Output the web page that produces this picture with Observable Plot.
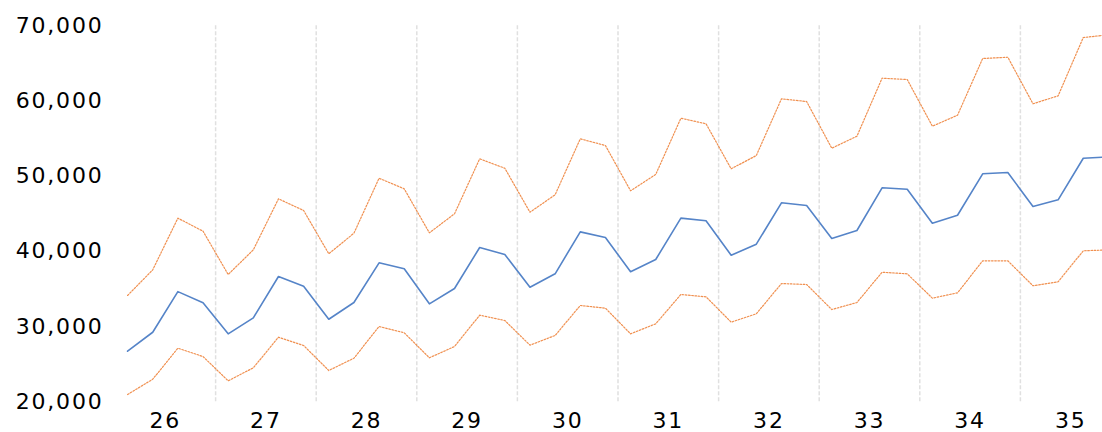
<!DOCTYPE html>
<html>
<head>
<meta charset="utf-8">
<script src="https://cdn.jsdelivr.net/npm/d3@7"></script>
<script src="https://cdn.jsdelivr.net/npm/@observablehq/plot@0.6"></script>
<style>
  html, body { margin: 0; padding: 0; background: #fff; overflow: hidden; }
  #chart svg { overflow: hidden; }
</style>
</head>
<body>
<div id="chart"></div>
<script>
const years = ["26","27","28","29","30","31","32","33","34","35"];
const yTicks = [20000, 30000, 40000, 50000, 60000, 70000];

const forecast = [
  26730, 29250, 34650, 33170,
  29040, 31170, 36660, 35370,
  30980, 33200, 38480, 37690,
  33030, 35070, 40520, 39590,
  35240, 37020, 42600, 41850,
  37290, 38920, 44420, 44070,
  39490, 40960, 46460, 46100,
  41720, 42780, 48460, 48270,
  43750, 44810, 50320, 50490,
  45970, 46860, 52390, 52560
];
const upper = [
  34140, 37550, 44420, 42690,
  36930, 40210, 46990, 45440,
  39680, 42420, 49730, 48320,
  42470, 45000, 52310, 51060,
  45210, 47530, 54970, 54080,
  48060, 50230, 57710, 56970,
  50980, 52750, 60290, 59930,
  53720, 55320, 63030, 62860,
  56650, 58110, 65650, 65820,
  59630, 60690, 68440, 68800
];
const lower = [
  20970, 23000, 27130, 26020,
  22790, 24520, 28590, 27490,
  24160, 25800, 30010, 29180,
  25850, 27350, 31520, 30810,
  27530, 28820, 32810, 32450,
  29040, 30370, 34270, 33960,
  30590, 31700, 35730, 35600,
  32270, 33200, 37230, 37020,
  33780, 34490, 38750, 38750,
  35430, 35960, 40080, 40200
];

const pts = (arr) => arr.map((v, i) => ({q: i + 0.5, v}));
const boundaries = years.slice(1).map((_, i) => (i + 1) * 4);
const centers = years.map((_, i) => i * 4 + 2);

const fontFamily = "'DejaVu Sans', Verdana, sans-serif";

const chart = Plot.plot({
  width: 1102,
  height: 432,
  marginLeft: 114,
  marginRight: 0,
  marginTop: 25,
  marginBottom: 31,
  style: { fontFamily, fontSize: "22px", color: "#000", background: "#fff" },
  x: { domain: [0, 40], range: [114.5, 1120.5], label: null },
  y: { domain: [20000, 70000], range: [401.3, 25.3], label: null },
  marks: [
    Plot.ruleX(boundaries, { x: d => d, y1: 20000, y2: 70000, stroke: "#e0e0e0", strokeWidth: 1.5, strokeDasharray: "4,2" }),
    Plot.line(pts(upper), { x: "q", y: "v", stroke: "#ED7D31", strokeOpacity: 0.85, strokeWidth: 1.2, strokeDasharray: "1.6,1.6" }),
    Plot.line(pts(lower), { x: "q", y: "v", stroke: "#ED7D31", strokeOpacity: 0.85, strokeWidth: 1.2, strokeDasharray: "1.6,1.6" }),
    Plot.line(pts(forecast), { x: "q", y: "v", stroke: "#5584C8", strokeWidth: 1.6 }),
    Plot.axisY(yTicks, { anchor: "left", label: null, tickSize: 0, tickPadding: 11, tickFormat: d3.format(","), fontSize: 22 }),
    Plot.axisX(centers, { anchor: "bottom", label: null, tickSize: 0, tickPadding: 11, tickFormat: d => years[(d - 2) / 4], fontSize: 22 })
  ]
});
chart.querySelectorAll("text").forEach(t => t.setAttribute("letter-spacing", "1.8"));
document.getElementById("chart").appendChild(chart);
</script>
</body>
</html>
